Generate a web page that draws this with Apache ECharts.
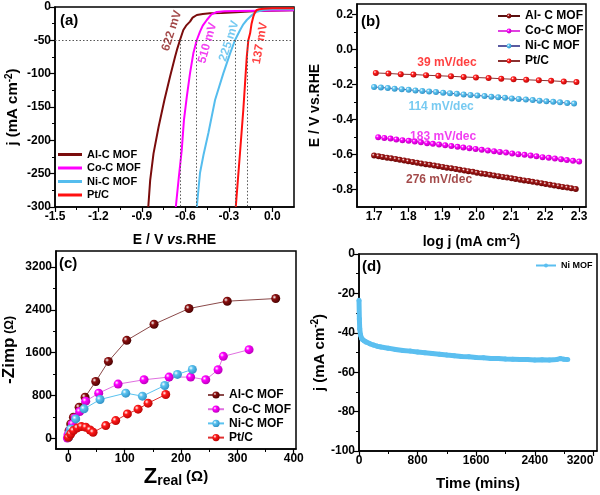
<!DOCTYPE html>
<html><head><meta charset="utf-8">
<script src="https://cdn.jsdelivr.net/npm/echarts@6/dist/echarts.min.js"></script>
<style>html,body{margin:0;padding:0;background:#fff}#c{width:600px;height:495px}</style>
</head><body><div id="c"></div>
<script>
// ---------- DATA ----------
// (a) LSV polarization curves [E (V vs RHE), j (mA cm-2)]
const lsvAlC = [[0.15,-5],[-0.1,-6],[-0.25,-8],[-0.35,-9],[-0.43,-9.5],[-0.48,-10.5],[-0.521,-12],[-0.55,-16],[-0.568,-22],[-0.595,-28],[-0.614,-34.5],[-0.637,-49.5],[-0.655,-62],[-0.671,-74.5],[-0.706,-104.5],[-0.745,-140],[-0.785,-180],[-0.82,-220],[-0.843,-260],[-0.856,-300]];
const lsvCoC = [[0.15,-5],[-0.1,-5.5],[-0.25,-6],[-0.33,-6.5],[-0.383,-7.5],[-0.42,-11],[-0.452,-19.5],[-0.48,-28],[-0.499,-37],[-0.521,-49.5],[-0.545,-69.5],[-0.568,-99.5],[-0.59,-134.5],[-0.61,-170],[-0.625,-214.5],[-0.645,-255],[-0.666,-300]];
const lsvNiC = [[0.15,-3.5],[0,-3.5],[-0.06,-4.5],[-0.107,-7],[-0.14,-12],[-0.176,-19.5],[-0.2,-26],[-0.222,-34.5],[-0.257,-49.5],[-0.291,-69.5],[-0.338,-99.5],[-0.395,-139.5],[-0.441,-189],[-0.475,-222],[-0.499,-249],[-0.521,-300]];
const lsvPtC = [[0.15,-2],[0,-2],[-0.06,-2.5],[-0.09,-3.5],[-0.107,-4.5],[-0.12,-8],[-0.131,-14.5],[-0.143,-25],[-0.153,-39.5],[-0.165,-49.5],[-0.176,-74.5],[-0.188,-114.5],[-0.2,-154.5],[-0.225,-225],[-0.252,-300]];
const refCurrent = -50;
const overpotE = [-0.637,-0.528,-0.257,-0.176];
const overpotText = ['622 mV','510 mV','225 mV','137 mV'];

// (b) Tafel plots
const tafAlC_x = [1.700,1.713,1.725,1.738,1.750,1.763,1.775,1.788,1.800,1.813,1.826,1.838,1.851,1.863,1.876,1.888,1.901,1.913,1.926,1.939,1.951,1.964,1.976,1.989,2.001,2.014,2.026,2.039,2.051,2.064,2.077,2.089,2.102,2.114,2.127,2.139,2.152,2.164,2.177,2.190,2.202,2.215,2.227,2.240,2.252,2.265,2.277,2.290];
const tafAlC_y = [-0.606,-0.610,-0.614,-0.618,-0.622,-0.626,-0.630,-0.634,-0.639,-0.643,-0.647,-0.651,-0.655,-0.659,-0.663,-0.667,-0.671,-0.675,-0.679,-0.683,-0.687,-0.691,-0.695,-0.699,-0.704,-0.708,-0.712,-0.716,-0.720,-0.724,-0.728,-0.732,-0.736,-0.740,-0.744,-0.748,-0.752,-0.756,-0.760,-0.764,-0.769,-0.773,-0.777,-0.781,-0.785,-0.789,-0.793,-0.797];
const tafCoC_x = [1.712,1.730,1.748,1.765,1.783,1.801,1.819,1.837,1.855,1.872,1.890,1.908,1.926,1.944,1.961,1.979,1.997,2.015,2.033,2.051,2.068,2.086,2.104,2.122,2.140,2.158,2.175,2.193,2.211,2.229,2.247,2.264,2.282,2.300];
const tafCoC_y = [-0.501,-0.505,-0.509,-0.514,-0.518,-0.522,-0.526,-0.530,-0.535,-0.539,-0.543,-0.547,-0.552,-0.556,-0.560,-0.564,-0.568,-0.573,-0.577,-0.581,-0.585,-0.589,-0.594,-0.598,-0.602,-0.606,-0.610,-0.615,-0.619,-0.623,-0.627,-0.632,-0.636,-0.640];
const tafNiC_x = [1.700,1.720,1.740,1.760,1.781,1.801,1.821,1.841,1.861,1.881,1.902,1.922,1.942,1.962,1.982,2.002,2.023,2.043,2.063,2.083,2.103,2.123,2.144,2.164,2.184,2.204,2.224,2.244,2.265,2.285];
const tafNiC_y = [-0.214,-0.217,-0.220,-0.224,-0.227,-0.230,-0.234,-0.237,-0.240,-0.243,-0.247,-0.250,-0.253,-0.257,-0.260,-0.263,-0.266,-0.270,-0.273,-0.276,-0.280,-0.283,-0.286,-0.289,-0.293,-0.296,-0.299,-0.302,-0.306,-0.309];
const tafPtC_x = [1.705,1.742,1.778,1.815,1.852,1.888,1.925,1.962,1.998,2.035,2.072,2.108,2.145,2.182,2.218,2.255,2.292];
const tafPtC_y = [-0.134,-0.137,-0.141,-0.143,-0.147,-0.150,-0.153,-0.157,-0.160,-0.163,-0.167,-0.170,-0.173,-0.176,-0.179,-0.183,-0.186];
const tafelText = ['39 mV/dec','114 mV/dec','183 mV/dec','276 mV/dec'];

// (c) Nyquist plots [Zreal, -Zimp]
const eisAlC = [[0,19],[1.2,144],[4.1,269],[8.9,394],[19,581],[29.6,769],[48.5,1062],[71,1437],[103.6,1831],[152,2131],[214,2425],[282,2562],[368,2612]];
const eisCoC = [[-1.8,6],[-0.6,69],[3,156],[7.1,269],[11.8,381],[20.1,500],[30.8,694],[53.8,844],[88.2,1013],[134.3,1094],[178.7,1144],[217,1144],[243.8,1094],[265.7,1281],[275,1531],[320.7,1656]];
const eisNiC = [[0.5,19],[2,90],[4.1,175],[13,362],[27.8,550],[56.2,725],[101.8,844],[131.4,787],[171,987],[193.5,1194],[220,1287]];
const eisPtC = [[0,19],[4.1,81],[8.9,144],[16,194],[23.1,219],[30.8,206],[38.5,156],[43.8,112],[66.3,237],[84,331],[104.7,456],[123.7,544],[141.4,656],[172.8,819]];

// (d) chronoamperometry
const chronoT = [0,5,10,20,35,50,75,100,150,200,250,300,400,500,600,700,800,900,1000,1100,1200,1300,1400,1500,1600,1700,1800,1900,2000,2100,2200,2300,2400,2500,2600,2700,2750,2800,2850];
const chronoJ = [-23.5,-33,-38,-41,-42.8,-43.5,-44.2,-44.8,-45.6,-46.2,-46.8,-47.2,-47.8,-48.5,-49,-49.3,-49.7,-50.1,-50.5,-50.9,-51.3,-51.6,-52,-52.2,-52.5,-52.7,-53,-53.1,-53.3,-53.4,-53.6,-53.6,-53.8,-53.7,-53.8,-53.5,-53.1,-53.4,-53.5];

// tick values
const aXTicks = [-1.5,-1.2,-0.9,-0.6,-0.3,0], aXMinor = [-1.35,-1.05,-0.75,-0.45,-0.15];
const aYTicks = [-300,-250,-200,-150,-100,-50,0], aYMinor = [-275,-225,-175,-125,-75,-25];
const bXTicks = [1.7,1.8,1.9,2.0,2.1,2.2,2.3], bXMinor = [1.75,1.85,1.95,2.05,2.15,2.25];
const bYTicks = [-0.8,-0.6,-0.4,-0.2,0,0.2], bYMinor = [-0.7,-0.5,-0.3,-0.1,0.1];
const cXTicks = [0,100,200,300,400], cXMinor = [50,150,250,350];
const cYTicks = [0,800,1600,2400,3200], cYMinor = [400,1200,2000,2800];
const dXTicks = [0,800,1600,2400,3200], dXMinor = [400,1200,2000,2800];
const dYTicks = [-100,-80,-60,-40,-20,0], dYMinor = [-90,-70,-50,-30,-10];

// ---------- CHART ----------
const FONT = 'Liberation Sans';
const zip = (xs, ys) => xs.map((x, i) => [x, ys[i]]);
const col = {al:'#7a0c0c', co:'#ff00ff', ni:'#55bdee', pt:'#ff1010'};

function mainAxis(dim, gi, min, max, vals, fmt, name, gap, nts, extra) {
  return Object.assign({
    type:'value', gridIndex:gi, min, max, position: dim === 'x' ? 'bottom' : 'left',
    splitLine:{show:false},
    axisLine:{show:true, onZero:false, lineStyle:{color:'#000', width:1.5}},
    axisTick:{show:true, customValues:vals, length:5, lineStyle:{color:'#000', width:1.2}},
    axisLabel:{show:true, customValues:vals, formatter:fmt, fontFamily:FONT, fontWeight:'bold', fontSize:12, color:'#000', margin:4},
    name, nameLocation:'middle', nameGap:gap,
    nameTextStyle:Object.assign({fontFamily:FONT, fontWeight:'bold', fontSize:14, color:'#000'}, nts)
  }, extra || {});
}
function minorAxis(dim, gi, min, max, vals) {
  return {type:'value', gridIndex:gi, min, max, position: dim === 'x' ? 'bottom' : 'left',
    splitLine:{show:false}, axisLine:{show:false, onZero:false},
    axisTick:{show:true, customValues:vals, length:3, lineStyle:{color:'#000', width:1}},
    axisLabel:{show:false}};
}
const f1 = v => (Math.abs(v) < 1e-9 ? '0.0' : v.toFixed(1));
const f0 = v => String(Math.round(v));

const supRich = {sup:{fontFamily:FONT, fontWeight:'bold', fontSize:10, verticalAlign:'top', padding:[0,0,8,0]},
                 it:{fontFamily:FONT, fontWeight:'bold', fontStyle:'italic', fontSize:14}};

const grids = [
  {left:55, top:7, width:239, height:200},
  {left:357, top:4, width:229, height:203},
  {left:55, top:251, width:241, height:198},
  {left:359, top:254, width:238, height:197}
].map(g => Object.assign(g, {show:true, borderColor:'#000', borderWidth:1.5, backgroundColor:'transparent', containLabel:false}));

const xAxes = [
  mainAxis('x',0,-1.5,0.15,aXTicks,f1,'E / V {it|vs.}RHE',26,{rich:supRich}),
  mainAxis('x',1,1.65,2.32,bXTicks,f1,'log j (mA cm{sup|-2})',26,{rich:supRich}),
  mainAxis('x',2,-22,404,cXTicks,f0,'{z|Z}{s|real} {o|(Ω)}',17,{rich:{
      z:{fontFamily:FONT, fontSize:22, color:'#000'},
      s:{fontFamily:FONT, fontSize:14, color:'#000', verticalAlign:'bottom', padding:[8,0,0,0]},
      o:{fontFamily:FONT, fontSize:15, color:'#000'}}}),
  mainAxis('x',3,0,3250,dXTicks,f0,'Time (mins)',25,{fontSize:15}, {axisLabel:{show:true, customValues:dXTicks, formatter:f0, fontFamily:FONT, fontWeight:'bold', fontSize:12, color:'#000', margin:4, alignMaxLabel:'right'}}),
  minorAxis('x',0,-1.5,0.15,aXMinor),
  minorAxis('x',1,1.65,2.32,bXMinor),
  minorAxis('x',2,-22,404,cXMinor),
  minorAxis('x',3,0,3250,dXMinor)
];
const yAxes = [
  mainAxis('y',0,-300,0,aYTicks,f0,'j (mA cm{sup|-2})',33,{fontSize:15, rich:supRich}),
  mainAxis('y',1,-0.9,0.26,bYTicks,f1,'E / V vs.RHE',35,{}),
  mainAxis('y',2,-200,3500,cYTicks,f0,'{m|-Zimp} {o|(Ω)}',38,{rich:{
      m:{fontFamily:FONT, fontSize:17, color:'#000'},
      o:{fontFamily:FONT, fontSize:12, color:'#000'}}}),
  mainAxis('y',3,-100,0,dYTicks,f0,'j (mA cm{sup|-2})',27,{fontSize:15, rich:supRich}),
  minorAxis('y',0,-300,0,aYMinor),
  minorAxis('y',1,-0.9,0.26,bYMinor),
  minorAxis('y',2,-200,3500,cYMinor),
  minorAxis('y',3,-100,0,dYMinor)
];

const sphere = (c, d) => ({type:'radial', x:0.35, y:0.35, r:0.75,
  colorStops:[{offset:0, color:'#ffffff'}, {offset:0.3, color:c}, {offset:1, color:d}]});

function annSeries(xi, texts, pos, rots, colors, size) {
  return {type:'scatter', xAxisIndex:xi, yAxisIndex:xi, silent:true, symbolSize:1,
    itemStyle:{color:'rgba(0,0,0,0)'}, z:10,
    data: texts.map((t, i) => ({name:t, value:pos[i],
      label:{show:true, position:'inside', formatter:'{b}', rotate:rots[i], color:colors[i],
             fontFamily:FONT, fontWeight:'bold', fontSize:size}}))};
}

const series = [
  // (a)
  {name:'a:Al-C MOF', type:'line', xAxisIndex:0, yAxisIndex:0, data:lsvAlC, symbol:'none', lineStyle:{width:2, color:'#7a0c0c'}, itemStyle:{color:'#7a0c0c'}},
  {name:'a:Co-C MOF', type:'line', xAxisIndex:0, yAxisIndex:0, data:lsvCoC, symbol:'none', lineStyle:{width:2, color:col.co}, itemStyle:{color:col.co}},
  {name:'a:Ni-C MOF', type:'line', xAxisIndex:0, yAxisIndex:0, data:lsvNiC, symbol:'none', lineStyle:{width:2, color:col.ni}, itemStyle:{color:col.ni}},
  {name:'a:Pt/C', type:'line', xAxisIndex:0, yAxisIndex:0, data:lsvPtC, symbol:'none', lineStyle:{width:2, color:col.pt}, itemStyle:{color:col.pt},
    markLine:{silent:true, symbol:['none','none'], label:{show:false}, animation:false,
      lineStyle:{type:[1.5,2], color:'#555', width:1},
      data:[[{coord:[-1.5, refCurrent]}, {coord:[0.15, refCurrent]}]].concat(
        overpotE.map(e => [{coord:[e, refCurrent]}, {coord:[e, -300]}]))}},
  annSeries(0, overpotText, [[-0.694,-35.7],[-0.447,-54],[-0.298,-51],[-0.084,-54.5]], [72,74,72,80],
    ['#8b1a1a', '#ee10ee', '#55bdee', '#ff1010'], 12),
  // (b)
  {name:'b:Al- C MOF', type:'line', xAxisIndex:1, yAxisIndex:1, data:zip(tafAlC_x, tafAlC_y), symbol:'circle', symbolSize:6,
    lineStyle:{width:1, color:'#5a1010'}, itemStyle:{color:sphere('#a01818','#5a0000')}},
  {name:'b:Co-C MOF', type:'line', xAxisIndex:1, yAxisIndex:1, data:zip(tafCoC_x, tafCoC_y), symbol:'circle', symbolSize:6,
    lineStyle:{width:1, color:'#e040e0'}, itemStyle:{color:sphere('#ff00ff','#b000b0')}},
  {name:'b:Ni-C MOF', type:'line', xAxisIndex:1, yAxisIndex:1, data:zip(tafNiC_x, tafNiC_y), symbol:'circle', symbolSize:6,
    lineStyle:{width:1, color:'#5a5aa0'}, itemStyle:{color:sphere('#5bc3f0','#2a8ac0')}},
  {name:'b:Pt/C', type:'line', xAxisIndex:1, yAxisIndex:1, data:zip(tafPtC_x, tafPtC_y), symbol:'circle', symbolSize:6,
    lineStyle:{width:1, color:'#8a3030'}, itemStyle:{color:sphere('#ff2020','#b00000')}},
  annSeries(1, tafelText, [[1.913,-0.077],[1.896,-0.329],[1.902,-0.5],[1.89,-0.746]], [0,0,0,0],
    ['#ff1010', '#55bdee', '#ee10ee', '#8b1a1a'], 12),
  // (c)
  {name:'c:Al-C MOF', type:'line', xAxisIndex:2, yAxisIndex:2, data:eisAlC, symbol:'circle', symbolSize:9,
    lineStyle:{width:1, color:'#8b4a4a'}, itemStyle:{color:sphere('#8b1010','#400000')}},
  {name:'c: Co-C MOF', type:'line', xAxisIndex:2, yAxisIndex:2, data:eisCoC, symbol:'circle', symbolSize:9,
    lineStyle:{width:1, color:'#e070e0'}, itemStyle:{color:sphere('#ff00ff','#b000b0')}},
  {name:'c:Ni-C MOF', type:'line', xAxisIndex:2, yAxisIndex:2, data:eisNiC, symbol:'circle', symbolSize:9,
    lineStyle:{width:1, color:'#5bc3f0'}, itemStyle:{color:sphere('#5bc3f0','#2a8ac0')}},
  {name:'c:Pt/C', type:'line', xAxisIndex:2, yAxisIndex:2, data:eisPtC, symbol:'circle', symbolSize:9,
    lineStyle:{width:1, color:'#e03030'}, itemStyle:{color:sphere('#ff1a1a','#b00000')}},
  // (d)
  {name:'d:Ni MOF', type:'line', xAxisIndex:3, yAxisIndex:3, data:zip(chronoT, chronoJ), symbol:'circle', symbolSize:5,
    lineStyle:{width:5, color:'#5bbff0'}, itemStyle:{color:'#5bbff0'}}
];

const legendText = {fontFamily:FONT, fontWeight:'bold', fontSize:12, color:'#000'};
const strip = n => n.slice(2);
const option = {
  animation:false,
  backgroundColor:'#fff',
  title:[
    {text:'(a)', left:60, top:13},
    {text:'(b)', left:361, top:14},
    {text:'(c)', left:59, top:256},
    {text:'(d)', left:362, top:259}
  ].map(t => Object.assign(t, {textStyle:{fontFamily:FONT, fontWeight:'bold', fontSize:15, color:'#000'}, padding:0})),
  grid:grids,
  xAxis:xAxes,
  yAxis:yAxes,
  legend:[
    {data:['a:Al-C MOF','a:Co-C MOF','a:Ni-C MOF','a:Pt/C'], formatter:strip, orient:'vertical', left:58, top:149,
      icon:'rect', itemWidth:24, itemHeight:3, itemGap:2.5, padding:0, textStyle:Object.assign({}, legendText, {fontSize:11})},
    {data:['b:Al- C MOF','b:Co-C MOF','b:Ni-C MOF','b:Pt/C'], formatter:strip, orient:'vertical', left:497, top:10,
      itemWidth:22, itemHeight:6, itemGap:3, padding:0, textStyle:legendText},
    {data:['c:Al-C MOF','c: Co-C MOF','c:Ni-C MOF','c:Pt/C'], formatter:strip, orient:'vertical', left:207, top:389,
      itemWidth:16, itemHeight:9, itemGap:2.2, padding:0, textStyle:legendText},
    {data:['d:Ni MOF'], formatter:strip, orient:'vertical', left:535, top:261,
      itemWidth:20, itemHeight:5, padding:0, textStyle:Object.assign({}, legendText, {fontSize:9})}
  ],
  series
};
const chart = echarts.init(document.getElementById('c'), null, {renderer:'canvas'});
chart.setOption(option);
</script>
</body></html>
